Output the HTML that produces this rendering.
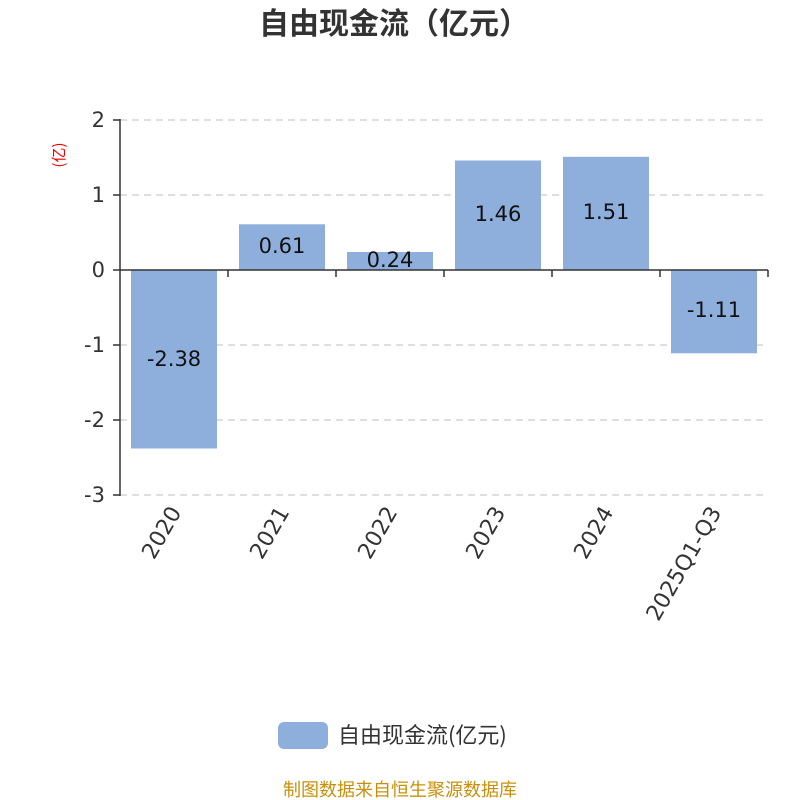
<!DOCTYPE html>
<html><head><meta charset="utf-8"><style>body{margin:0;background:#fff}svg{display:block}</style></head><body>
<svg width="800" height="800" viewBox="0 0 800 800" xmlns="http://www.w3.org/2000/svg" font-family="DejaVu Sans, Noto Sans CJK SC, sans-serif">
<text x="394" y="34" text-anchor="middle" font-size="30" font-weight="bold" fill="#333" font-family="Noto Sans CJK SC, sans-serif">自由现金流（亿元）</text>
<text transform="translate(64,155) rotate(-90)" text-anchor="middle" font-size="15" fill="#e00" font-family="Noto Sans CJK SC, sans-serif">(亿)</text>
<g stroke="#ccc" stroke-dasharray="7,5" stroke-width="1.3">
<line x1="120" y1="120" x2="768" y2="120"/><line x1="120" y1="195" x2="768" y2="195"/>
<line x1="120" y1="345" x2="768" y2="345"/><line x1="120" y1="420" x2="768" y2="420"/><line x1="120" y1="495" x2="768" y2="495"/>
</g>
<g fill="#8eaedc">
<rect x="131" y="270" width="86" height="178.5"/>
<rect x="239" y="224.3" width="86" height="45.7"/>
<rect x="347" y="252" width="86" height="18"/>
<rect x="455" y="160.5" width="86" height="109.5"/>
<rect x="563" y="156.8" width="86" height="113.2"/>
<rect x="671" y="270" width="86" height="83.3"/>
</g>
<g stroke="#333" stroke-width="1.5">
<line x1="120" y1="119" x2="120" y2="496"/>
<line x1="113" y1="120" x2="120" y2="120"/><line x1="113" y1="195" x2="120" y2="195"/><line x1="113" y1="270" x2="120" y2="270"/>
<line x1="113" y1="345" x2="120" y2="345"/><line x1="113" y1="420" x2="120" y2="420"/><line x1="113" y1="495" x2="120" y2="495"/>
<line x1="120" y1="270" x2="768" y2="270"/>
<line x1="228" y1="270" x2="228" y2="277"/><line x1="336" y1="270" x2="336" y2="277"/><line x1="444" y1="270" x2="444" y2="277"/>
<line x1="552" y1="270" x2="552" y2="277"/><line x1="660" y1="270" x2="660" y2="277"/><line x1="768" y1="270" x2="768" y2="277"/>
</g>
<g font-size="21" fill="#333" text-anchor="end">
<text x="105" y="127">2</text><text x="105" y="202">1</text><text x="105" y="277">0</text>
<text x="105" y="352">-1</text><text x="105" y="427">-2</text><text x="105" y="502">-3</text>
</g>
<g font-size="21" fill="#111" text-anchor="middle">
<text x="174" y="366">-2.38</text><text x="282" y="253">0.61</text><text x="390" y="267">0.24</text>
<text x="498" y="221">1.46</text><text x="606" y="219">1.51</text><text x="714" y="317">-1.11</text>
</g>
<g font-size="22" fill="#333" text-anchor="end">
<text transform="translate(182,512) rotate(-60)">2020</text>
<text transform="translate(290,512) rotate(-60)">2021</text>
<text transform="translate(398,512) rotate(-60)">2022</text>
<text transform="translate(506,512) rotate(-60)">2023</text>
<text transform="translate(614,512) rotate(-60)">2024</text>
<text transform="translate(722,512) rotate(-60)">2025Q1-Q3</text>
</g>
<rect x="278" y="722" width="50" height="27" rx="6" fill="#8eaedc"/>
<text x="338" y="743" font-size="22" fill="#333" font-family="Noto Sans CJK SC, sans-serif">自由现金流(亿元)</text>
<text x="400" y="796" text-anchor="middle" font-size="18" fill="#c8900a" font-family="Noto Sans CJK SC, sans-serif">制图数据来自恒生聚源数据库</text>
</svg>
</body></html>
